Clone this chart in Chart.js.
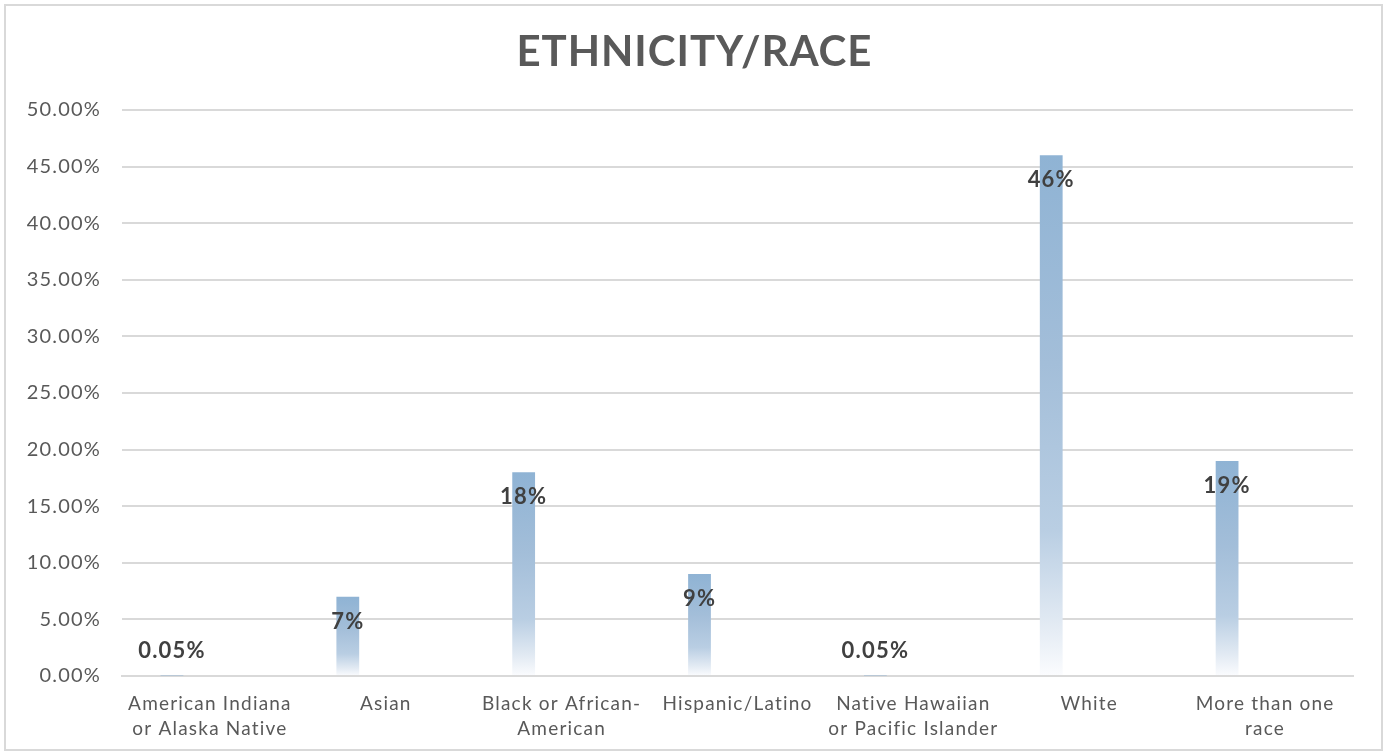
<!DOCTYPE html>
<html lang="en">
    <head>
        <meta charset="UTF-8" />
        <meta name="viewport" content="width=device-width, initial-scale=1.0" />
        <title>Ethnicity/Race</title>
        <script src="https://cdn.jsdelivr.net/npm/chart.js@4.4.1/dist/chart.umd.min.js"></script>
        <style>
            html, body { margin: 0; padding: 0; background: #fff; }
            #wrap { width: 1388px; height: 755px; }
        </style>
    </head>
    <body>
        <div id="wrap"><canvas id="chart"></canvas></div>
        <script>
        const title = 'ETHNICITY/RACE';
        const groups = [
            ['American Indiana', 'or Alaska Native'],
            'Asian',
            ['Black or African-', 'American'],
            'Hispanic/Latino',
            ['Native Hawaiian', 'or Pacific Islander'],
            'White',
            ['More than one', 'race']
        ];
        // percent of students in each group
        const shares = [0.05, 7, 18, 9, 0.05, 46, 19];
        // second, empty series keeps the bars left of the category centre
        const other = [null, null, null, null, null, null, null];
        const yTicks = [0, 5, 10, 15, 20, 25, 30, 35, 40, 45, 50];

        const grey = '#595959';

        function barFill(context) {
            const chart = context.chart;
            const y = chart.scales.y;
            if (!y || context.raw == null) return '#8fb3d4';
            const top = y.getPixelForValue(context.raw);
            const base = y.getPixelForValue(0);
            if (!isFinite(top) || base - top < 1) return '#8fb3d4';
            const g = chart.ctx.createLinearGradient(0, top, 0, base);
            g.addColorStop(0, '#8fb3d4');
            g.addColorStop(0.4, '#a3bed9');
            g.addColorStop(0.72, '#b9cee3');
            g.addColorStop(0.9, '#e2eaf3');
            g.addColorStop(1, '#fbfcfe');
            return g;
        }

        const framePlugin = {
            id: 'frame',
            beforeDraw(chart) {
                const c = chart.ctx;
                c.save();
                c.fillStyle = '#fff';
                c.fillRect(0, 0, chart.width, chart.height);
                c.strokeStyle = '#d9d9d9';
                c.lineWidth = 2;
                c.strokeRect(5, 5, chart.width - 11, chart.height - 10);
                c.restore();
                // wider tracking for all the axis text
                c.letterSpacing = '1.2px';
            },
            afterDraw(chart) {
                const c = chart.ctx;
                c.save();
                c.letterSpacing = '0px';
                c.font = 'bold 42px Lato';
                const target = 355;
                const plain = c.measureText(title).width;
                const spacing = (target - plain) / (title.length - 1);
                c.letterSpacing = spacing + 'px';
                c.fillStyle = grey;
                c.textAlign = 'left';
                c.textBaseline = 'middle';
                const w = c.measureText(title).width - spacing;
                c.fillText(title, (chart.width - w) / 2, 52);
                c.restore();
            }
        };

        const valueLabels = {
            id: 'valueLabels',
            afterDatasetsDraw(chart) {
                const c = chart.ctx;
                const meta = chart.getDatasetMeta(0);
                const base = chart.scales.y.getPixelForValue(0);
                c.save();
                c.font = 'bold 22px Lato';
                c.letterSpacing = '1.2px';
                c.fillStyle = '#404040';
                c.textAlign = 'center';
                c.textBaseline = 'middle';
                meta.data.forEach((bar, i) => {
                    const v = shares[i];
                    const txt = (v < 1 ? v.toFixed(2) : v) + '%';
                    const y = Math.min(bar.y + 25, base - 25);
                    c.fillText(txt, bar.x, y);
                });
                c.restore();
            }
        };

        new Chart(document.getElementById('chart'), {
            type: 'bar',
            data: {
                labels: groups,
                datasets: [{
                    label: 'Share',
                    data: shares,
                    backgroundColor: barFill,
                    borderWidth: 0
                }, {
                    label: 'Other',
                    data: other,
                    backgroundColor: '#8fb3d4',
                    borderWidth: 0
                }]
            },
            options: {
                responsive: true,
                maintainAspectRatio: false,
                animation: false,
                datasets: {
                    bar: { categoryPercentage: 0.864, barPercentage: 0.3 }
                },
                layout: { padding: { top: 110, right: 35, left: 0, bottom: 0 } },
                plugins: {
                    legend: { display: false },
                    title: { display: false },
                    tooltip: { enabled: false }
                },
                scales: {
                    x: {
                        grid: { display: false, drawTicks: false },
                        border: { color: '#d9d9d9', width: 2 },
                        ticks: {
                            color: grey,
                            font: { family: 'Lato', size: 19, lineHeight: 1.32 },
                            padding: 15,
                            maxRotation: 0,
                            autoSkip: false
                        },
                        afterFit(scale) { scale.height = 79; }
                    },
                    y: {
                        min: 0,
                        max: 50,
                        afterBuildTicks(scale) {
                            scale.ticks = yTicks.map(v => ({ value: v }));
                        },
                        grid: { color: '#d9d9d9', lineWidth: 2, drawTicks: false },
                        border: { display: false },
                        ticks: {
                            color: grey,
                            font: { family: 'Lato', size: 20 },
                            padding: 21,
                            callback: v => v.toFixed(2) + '%'
                        },
                        afterFit(scale) { scale.width = 122; }
                    }
                }
            },
            plugins: [framePlugin, valueLabels]
        });
        </script>
    </body>
</html>
